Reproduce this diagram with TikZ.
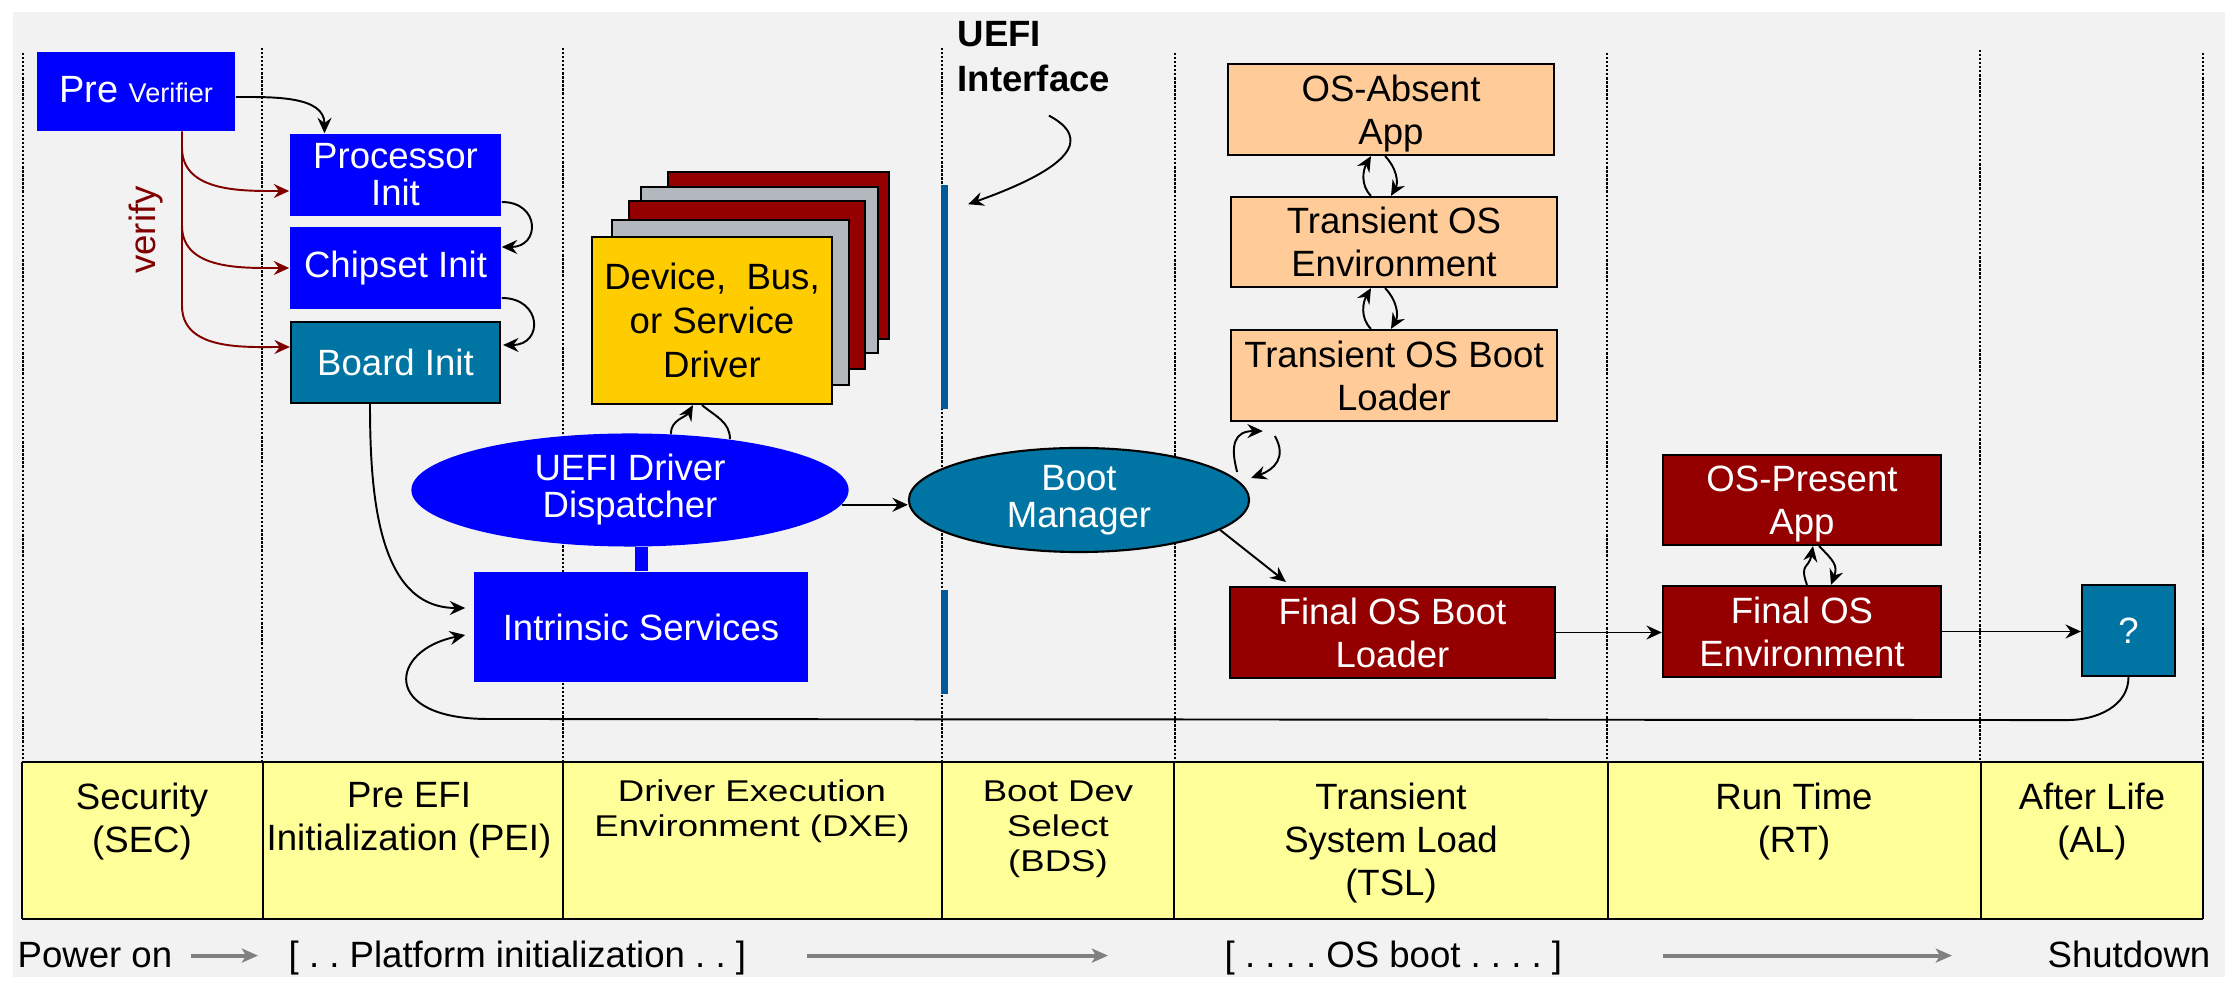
\documentclass[tikz,border=0pt]{standalone}
\usepackage{fontspec}
\setmainfont{Liberation Sans}
\usepackage{graphicx}
\usepackage{xcolor}
\usepackage{tikz}
\usetikzlibrary{arrows.meta,positioning,calc,shapes.geometric}

\definecolor{bggray}{RGB}{242,242,242}
\definecolor{pureblue}{RGB}{0,0,255}
\definecolor{tealbox}{RGB}{0,117,163}
\definecolor{darkredbox}{RGB}{148,0,0}
\definecolor{silverbox}{RGB}{178,184,190}
\definecolor{gold}{RGB}{255,204,0}
\definecolor{peach}{RGB}{255,204,153}
\definecolor{bandyellow}{RGB}{255,255,153}
\definecolor{barblue}{RGB}{0,90,156}
\definecolor{verifyred}{RGB}{128,0,0}
\definecolor{arrowgray}{RGB}{128,128,128}

\begin{document}
\frenchspacing
\begin{tikzpicture}[
    x=0.01cm, y=0.01cm,
    font=\fontsize{10.4}{12.2}\selectfont,
    box/.style={align=center, inner sep=0pt},
    framed/.style={box, draw, line width=0.6pt},
    tight/.style={font=\fontsize{10.4}{10.5}\selectfont},
    arr/.style={-{Stealth[length=4.4pt,width=4pt,inset=1.5pt]}, line width=0.55pt},
    redarr/.style={arr, draw=verifyred},
    grayarr/.style={-{Stealth[length=4.6pt,width=4pt,inset=1.2pt]}, line width=1.1pt, draw=arrowgray},
    lane/.style={line width=0.45pt, dash pattern=on 0.65pt off 0.5pt},
    ifbar/.style={fill=barblue, inner sep=0pt, minimum width=0.07cm},
    phase/.style={align=center, inner sep=0pt, anchor=north},
  ]
    % canvas
    \useasboundingbox (0,0) rectangle (2235,-1001);
    \fill[white] (0,0) rectangle (2235,-1001);
    \fill[bggray] (13,-12) rectangle (2225,-977);

    % phase lanes
    \foreach \lx/\ly in {23/53, 262/48, 563/48, 942/48, 1175/53, 1607/53, 1980/50, 2203/53}
      \draw[lane] (\lx,-\ly) -- (\lx,-762);

    % phase band
    \fill[bandyellow] (22,-762) rectangle (2203,-919);
    \foreach \bx in {22,263,563,942,1608,1981,2203}
      \draw[line width=0.4pt] (\bx,-762) -- (\bx,-919);
    \draw[line width=0.7pt] (1174,-762) -- (1174,-919);
    \draw[line width=0.6pt] (22,-762) -- (2203,-762) (22,-919) -- (2203,-919);

    \node[phase] (sec) at (142,-782) {Security\\(SEC)};
    \node[phase] (pei) at (409,-782) {Pre EFI\\Initialization (PEI)};
    \node[phase] (dxe) at (752,-776)
      {\scalebox{1}[0.82]{\begin{tabular}{@{}c@{}}Driver Execution\\Environment (DXE)\end{tabular}}};
    \node[phase] (bds) at (1058,-776)
      {\scalebox{1}[0.82]{\begin{tabular}{@{}c@{}}Boot Dev\\Select\\(BDS)\end{tabular}}};
    \node[phase] (tsl) at (1391,-782) {Transient\\System Load\\(TSL)};
    \node[phase] (rt) at (1794,-782) {Run Time\\(RT)};
    \node[phase] (al) at (2092,-782) {After Life\\(AL)};

    % timeline
    \node[anchor=base west, inner sep=0pt] (poweron) at (17,-968) {Power on};
    \node[anchor=base west, inner sep=0pt] (platform) at (288,-968)
      {[ . . Platform initialization . . ]};
    \node[anchor=base west, inner sep=0pt] (osboot) at (1224,-968)
      {[ . . . . OS boot . . . . ]};
    \node[anchor=base east, inner sep=0pt] (shutdown) at (2211,-968) {Shutdown};
    \draw[grayarr] ($(poweron.east)+(18,0)$) -- ($(poweron.east -| platform.west)+(-30,0)$);
    \draw[grayarr] ($(platform.east |- poweron.east)+(60,0)$) -- ($(osboot.west |- poweron.east)+(-116,0)$);
    \draw[grayarr] ($(osboot.east |- poweron.east)+(100,0)$) -- ($(shutdown.west |- poweron.east)+(-95,0)$);

    % UEFI interface
    \node[ifbar, minimum height=2.24cm] (ifbar1) at (944,-297) {};
    \node[ifbar, minimum height=1.04cm] (ifbar2) at (944,-642) {};
    \node[anchor=north west, align=left, inner sep=0pt,
      font=\fontsize{10.4}{12.7}\selectfont\bfseries] (uefiif) at (957,-21) {UEFI\\Interface};
    \draw[arr] ($(uefiif.south)+(15,-23)$) .. controls +(43,-23) and +(104,37)
      .. ($(ifbar1.north east)+(20,-20)$);

    % SEC / PEI
    \node[box, fill=pureblue, text=white, minimum width=1.98cm, minimum height=0.79cm]
      (preverifier) at (136,-91.5) {\raisebox{0.045cm}{\fontsize{10.8}{12}\selectfont Pre {\fontsize{7.7}{9}\selectfont Verifier}}};
    \node[box, tight, fill=pureblue, text=white, minimum width=2.11cm, minimum height=0.82cm]
      (procinit) at (395.5,-175) {Processor\\Init};
    \node[box, fill=pureblue, text=white, minimum width=2.11cm, minimum height=0.82cm]
      (chipinit) at (395.5,-268) {Chipset Init};
    \node[framed, fill=tealbox, text=white, minimum width=2.09cm, minimum height=0.81cm]
      (boardinit) at (395.5,-362.5) {Board Init};
    \node[rotate=90, text=verifyred, inner sep=0pt] (verifylbl) at (146,-230) {verify};

    \draw[arr] ($(preverifier.east)+(0,-5.5)$) to[out=0, in=90] ($(procinit.north)+(-71,0)$);
    \draw[redarr] ($(preverifier.south)+(46,0)$) -- ++(0,-16)
      to[out=-90, in=180] ($(procinit.west)+(0,-16)$);
    \draw[redarr] ($(preverifier.south)+(46,0)$) -- ++(0,-94)
      to[out=-90, in=180] (chipinit.west);
    \draw[redarr] ($(preverifier.south)+(46,0)$) -- ++(0,-174)
      to[out=-90, in=180] ($(boardinit.west)+(0,15.5)$);
    \draw[arr] ($(procinit.east)+(0,-27)$) to[out=0, in=0, looseness=2.2] ($(chipinit.east)+(0,21)$);
    \draw[arr] ($(chipinit.east)+(0,-30)$) to[out=0, in=0, looseness=2.2] ($(boardinit.east)+(2,17.5)$);

    % DXE
    \node[framed, fill=darkredbox, minimum width=2.21cm, minimum height=1.67cm] (stack4) at (778.5,-255.5) {};
    \node[framed, fill=silverbox, minimum width=2.37cm, minimum height=1.66cm] (stack3) at (759.5,-270) {};
    \node[framed, fill=darkredbox, minimum width=2.36cm, minimum height=1.68cm] (stack2) at (747,-285) {};
    \node[framed, fill=silverbox, minimum width=2.37cm, minimum height=1.65cm] (stack1) at (730.5,-302.5) {};
    \node[framed, fill=gold, minimum width=2.40cm, minimum height=1.67cm, font=\fontsize{10.4}{12.6}\selectfont]
      (driver) at (712,-320.5) {Device,\ \ Bus,\\or Service\\Driver};
    \node[ellipse, tight, fill=pureblue, text=white, inner sep=0pt, align=center,
      minimum width=4.37cm, minimum height=1.13cm] (dispatcher) at (630,-490) {UEFI Driver\\Dispatcher};
    \node[box, fill=pureblue, text=white, minimum width=3.34cm, minimum height=1.10cm]
      (intrinsic) at (641,-627) {Intrinsic Services};
    \draw[pureblue, line width=0.13cm] (intrinsic.north) -- (intrinsic.north |- dispatcher.south);

    \draw[arr] (dispatcher.54) to[out=90, in=240] ($(driver.south)+(-19,0)$);
    \draw[line width=0.55pt] ($(driver.south)+(-10,0)$) to[out=-40, in=90] (dispatcher.27);
    \draw[arr] ($(boardinit.south)+(-25.5,0)$) to[out=-90, in=180] ($(intrinsic.west)+(-8,19)$);

    % BDS
    \node[ellipse, tight, draw, line width=0.6pt, fill=tealbox, text=white, inner sep=0pt, align=center,
      minimum width=3.40cm, minimum height=1.04cm] (bootmgr) at (1079,-500) {Boot\\Manager};
    \draw[arr] (dispatcher.-4) -- (dispatcher.-4 -| bootmgr.west);

    % TSL
    \node[framed, fill=peach, minimum width=3.26cm, minimum height=0.91cm]
      (osabsent) at (1391,-109.5) {OS-Absent\\\smash{App}};
    \node[framed, fill=peach, minimum width=3.26cm, minimum height=0.90cm]
      (transenv) at (1394,-242) {Transient OS\\Environment};
    \node[framed, fill=peach, minimum width=3.26cm, minimum height=0.91cm]
      (transloader) at (1394,-375.5) {Transient OS Boot\\Loader};
    \node[framed, fill=darkredbox, text=white, minimum width=3.25cm, minimum height=0.91cm]
      (finalloader) at (1392.5,-632.5) {Final OS Boot\\Loader};

    \draw[arr] ($(transenv.north)+(-23,0)$) to[out=135, in=-120] ($(osabsent.south)+(-20,0)$);
    \draw[arr] ($(osabsent.south)+(-6,0)$) to[out=-45, in=60] ($(transenv.north)+(-3,0)$);
    \draw[arr] ($(transloader.north)+(-23,0)$) to[out=135, in=-120] ($(transenv.south)+(-23,0)$);
    \draw[arr] ($(transenv.south)+(-9,0)$) to[out=-45, in=60] ($(transloader.north)+(-3,0)$);
    \draw[arr] ($(bootmgr.east)+(-13,28)$) to[out=105, in=180, looseness=1.5] ($(transloader.south west)+(33,-9)$);
    \draw[arr] ($(transloader.south west)+(45,-14)$) to[out=-60, in=20, looseness=1.3] ($(bootmgr.east)+(1,22)$);
    \draw[arr] (bootmgr.-12) -- ($(finalloader.north west)+(57,4)$);

    % RT
    \node[framed, fill=darkredbox, text=white, minimum width=2.78cm, minimum height=0.90cm]
      (ospresent) at (1802,-500) {OS-Present\\\smash{App}};
    \node[framed, fill=darkredbox, text=white, minimum width=2.78cm, minimum height=0.91cm]
      (finalenv) at (1802,-631.5) {Final OS\\Environment};
    \draw[arr] ($(finalenv.north)+(5,0)$) to[out=110, in=-100, looseness=1.5] ($(ospresent.south)+(11,0)$);
    \draw[arr] ($(ospresent.south)+(17,0)$) to[out=-45, in=70, looseness=1.3] ($(finalenv.north)+(29,0)$);
    \draw[arr] (finalloader.east) -- (finalloader.east -| finalenv.west);

    % AL
    \node[framed, fill=tealbox, text=white, minimum width=0.93cm, minimum height=0.91cm]
      (unknown) at (2128.5,-630.5) {?};
    \draw[arr] (finalenv.east) -- (finalenv.east -| unknown.west);
    \draw[arr] (unknown.south) to[out=-90, in=0] ++(-61,-43) -- (488,-719)
      .. controls +(-108,0) and +(-76,-15) .. ($(intrinsic.west)+(-8,-8)$);
  \end{tikzpicture}
\end{document}
